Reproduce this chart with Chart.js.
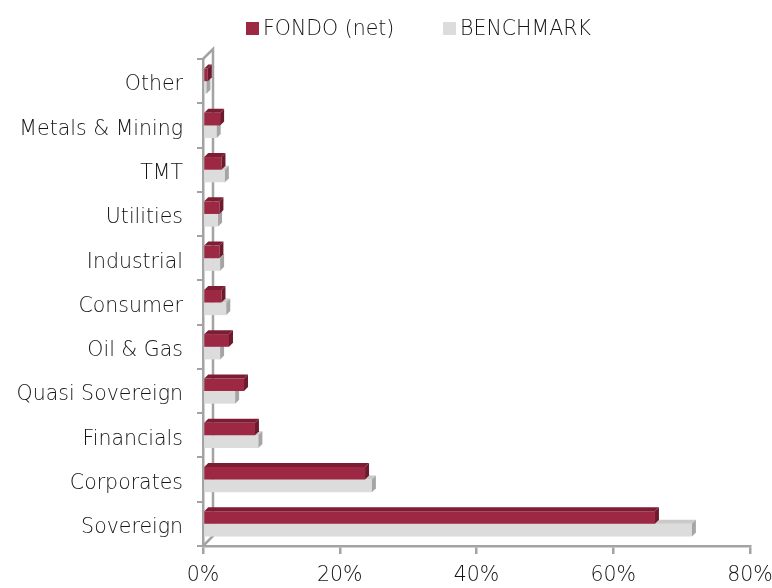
<!DOCTYPE html>
<html>
<head>
<meta charset="utf-8">
<script src="https://cdn.jsdelivr.net/npm/chart.js@4.4.1/dist/chart.umd.min.js"></script>
<style>
html,body{margin:0;padding:0;background:#fff;}
#wrap{width:772px;height:588px;position:relative;}
</style>
</head>
<body>
<div id="wrap"><canvas id="c" width="772" height="588"></canvas></div>
<script>
const categories = ['Other','Metals & Mining','TMT','Utilities','Industrial','Consumer','Oil & Gas','Quasi Sovereign','Financials','Corporates','Sovereign'];
const fondo = [0.7, 2.5, 2.7, 2.4, 2.4, 2.7, 3.8, 6.0, 7.6, 23.7, 66.1];
const benchmark = [0.5, 2.0, 3.2, 2.2, 2.5, 3.4, 2.5, 4.7, 8.1, 24.7, 71.5];
const seriesNames = ['FONDO (net)', 'BENCHMARK'];
const xTicks = [0, 20, 40, 60, 80];

const FONT = "'DejaVu Sans', sans-serif";
const TXT = '#141414';
const AXIS = '#a3a3a3';
const colors = {
  front: ['#9c2843', '#dcdcdc'],
  top:   ['#7c1d33', '#c9c9c9'],
  side:  ['#6d1a2d', '#a5a5a5']
};
const DEPTH = 4;

const depthPlugin = {
  id: 'depth',
  beforeDatasetsDraw(chart) {
    const {ctx, chartArea: a} = chart;
    const w = 10;
    ctx.save();
    ctx.strokeStyle = AXIS;
    ctx.lineWidth = 2.5;
    ctx.beginPath();
    ctx.moveTo(a.left, a.top);
    ctx.lineTo(a.left + w, a.top - w);
    ctx.lineTo(a.left + w, a.bottom - w);
    ctx.lineTo(a.left, a.bottom);
    ctx.stroke();
    ctx.restore();
  },
  afterDatasetDraw(chart, args) {
    const {ctx} = chart;
    const i = args.index;
    const meta = args.meta;
    ctx.save();
    meta.data.forEach(bar => {
      const p = bar.getProps(['x', 'y', 'base', 'height'], true);
      const top = p.y - p.height / 2;
      const bot = p.y + p.height / 2;
      const x0 = p.base, x1 = p.x, d = DEPTH;
      ctx.fillStyle = colors.top[i];
      ctx.beginPath();
      ctx.moveTo(x0, top);
      ctx.lineTo(x0 + d, top - d);
      ctx.lineTo(x1 + d, top - d);
      ctx.lineTo(x1, top);
      ctx.closePath();
      ctx.fill();
      ctx.fillStyle = colors.side[i];
      ctx.beginPath();
      ctx.moveTo(x1, top);
      ctx.lineTo(x1 + d, top - d);
      ctx.lineTo(x1 + d, bot - d);
      ctx.lineTo(x1, bot);
      ctx.closePath();
      ctx.fill();
    });
    ctx.restore();
  },
  afterDraw(chart) {
    const {ctx} = chart;
    const items = [[246, seriesNames[0], colors.front[0]], [443, seriesNames[1], colors.front[1]]];
    ctx.save();
    ctx.font = "200 20.5px " + FONT;
    ctx.textBaseline = 'alphabetic';
    items.forEach(([x, label, col]) => {
      ctx.fillStyle = col;
      ctx.fillRect(x, 22, 13, 13);
      ctx.fillStyle = TXT;
      ctx.fillText(label, x + 17, 35);
    });
    ctx.restore();
  }
};

new Chart(document.getElementById('c'), {
  type: 'bar',
  data: {
    labels: categories,
    datasets: [
      {label: seriesNames[0], data: fondo, backgroundColor: colors.front[0], borderWidth: 0, categoryPercentage: 0.57, barPercentage: 1.0},
      {label: seriesNames[1], data: benchmark, backgroundColor: colors.front[1], borderWidth: 0, categoryPercentage: 0.57, barPercentage: 1.0}
    ]
  },
  options: {
    indexAxis: 'y',
    responsive: false,
    animation: false,
    devicePixelRatio: 1,
    layout: {padding: {top: 59, right: 22, bottom: 0, left: 0}},
    plugins: {legend: {display: false}, tooltip: {enabled: false}},
    scales: {
      x: {
        min: 0, max: 80,
        afterFit(axis) { axis.height = 42; axis.paddingRight = 0; axis.paddingLeft = 0; },
        afterBuildTicks(axis) { axis.ticks = xTicks.map(v => ({value: v})); },
        grid: {drawOnChartArea: false, drawTicks: true, tickLength: 8, color: AXIS, lineWidth: 2.5},
        border: {display: true, color: AXIS, width: 2.5},
        ticks: {padding: 9, color: TXT, font: {family: FONT, size: 20.5, weight: 200}, callback: v => v + '%', maxRotation: 0}
      },
      y: {
        afterFit(axis) { axis.width = 203; },
        grid: {drawOnChartArea: false, drawTicks: true, tickLength: 6, color: AXIS, lineWidth: 2, offset: true},
        border: {display: true, color: AXIS, width: 2.5},
        ticks: {padding: 14, labelOffset: 4, color: TXT, font: {family: FONT, size: 20.5, weight: 200}}
      }
    }
  },
  plugins: [depthPlugin]
});
</script>
</body>
</html>
